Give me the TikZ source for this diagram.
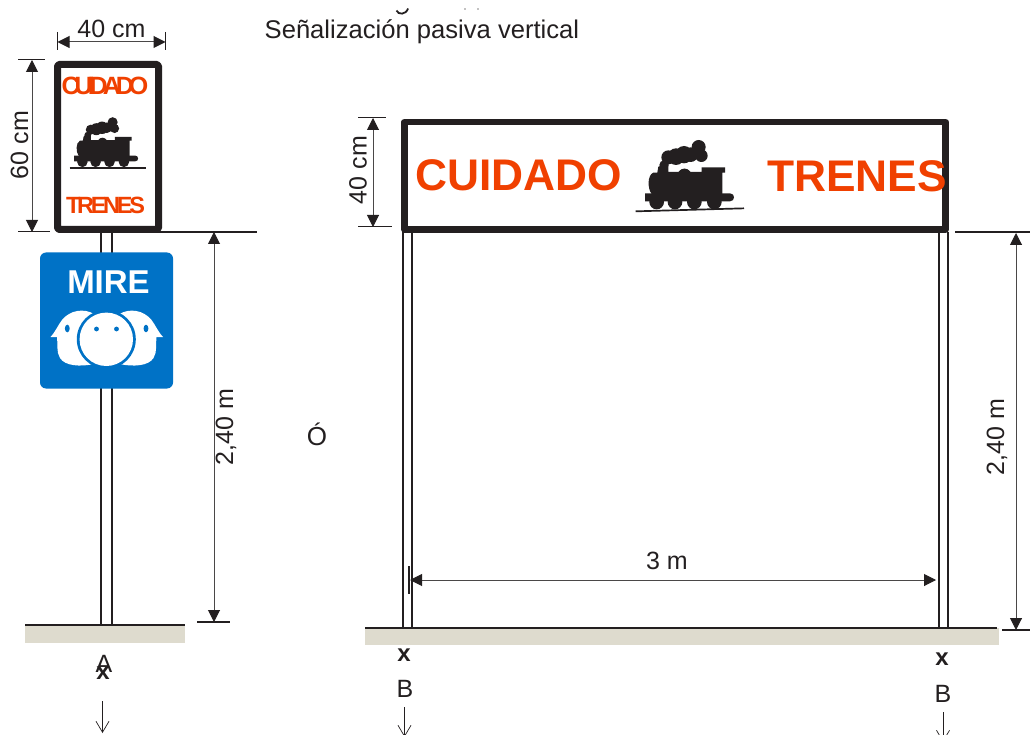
\documentclass[tikz,border=0pt]{standalone}
\usepackage{fontspec}
\setmainfont{Liberation Sans}
\usetikzlibrary{arrows.meta}
\definecolor{ink}{HTML}{231F20}
\definecolor{signred}{HTML}{F04000}
\definecolor{signblue}{HTML}{0072C6}
\definecolor{ground}{HTML}{DEDBCE}
\definecolor{dimgrey}{HTML}{4A4848}
\newcommand{\engine}{%
  \fill[ink] (135,220) -- (390,220) .. controls (406,220) and (406,244) .. (390,244) -- (135,244) -- cycle;
  \foreach \wx in {170,225,283,343} \fill[ink] (\wx,246) circle[radius=22];
  \fill[ink] (160,158) .. controls (142,165) and (142,205) .. (155,222) -- (367,222) -- (367,158) -- (375,158) -- (375,142) -- (305,142) -- (305,156) -- (272,156) .. controls (262,142) and (245,142) .. (235,156) -- (205,156) -- (205,130) -- (175,140) -- (172,158) -- cycle;
  \foreach \sx/\sy/\sr in {192/135/14,205/112/21,228/110/25,252/104/26,272/104/22,296/81/21,304/107/19}
    \fill[ink] (\sx,\sy) circle[radius=\sr];
}
\tikzset{
  x=1pt,y=-1pt,
  lbl/.style={font=\fontsize{25}{25}\selectfont,text=ink,inner sep=0pt},
  dimline/.style={draw=dimgrey,line width=1pt,{Triangle[length=12pt,width=12pt,color=ink]}-{Triangle[length=12pt,width=12pt,color=ink]}},
  tick/.style={draw=ink,line width=1pt},
  heavytick/.style={draw=ink,line width=2pt},
  post/.style={draw=ink,line width=2pt},
  frameline/.style={draw=ink,line width=7pt,line join=round},
  groundline/.style={draw=ink,line width=2pt},
  grnd/.style={fill=ground,draw=none},
  downarrow/.style={draw=ink,line width=.7pt,-{Straight Barb[length=11pt,width=13pt]}},
  mark x/.style={font=\fontsize{24}{24}\selectfont\bfseries,text=ink,inner sep=0pt},
  smallred/.style={font=\fontsize{25}{25}\selectfont\bfseries,text=signred,inner sep=0pt},
  bigred/.style={font=\fontsize{44.3}{44.3}\selectfont\bfseries,text=signred,inner sep=0pt},
}
\begin{document}
\begin{tikzpicture}
\useasboundingbox (0,0) rectangle (1030,735);

% ---- ground and posts, left
\fill[grnd] (25,625) rectangle (185,643);
\draw[post] (101,232) -- (101,625);
\draw[post] (112,232) -- (112,625);
\draw[groundline] (25,624.5) -- (185,624.5);

% ---- left sign
\draw[frameline,fill=white,rounded corners=1.5pt] (57.5,64.5) rectangle (158.5,229.5);
\node[smallred] (cuidadoS) at (105,86) {\addfontfeature{LetterSpace=-20}CUIDADO};
\node[smallred,font=\fontsize{23.5}{23.5}\selectfont\bfseries] (trenesS) at (105.5,205.5) {\addfontfeature{LetterSpace=-14}TRENES};
\begin{scope}[shift={(41.6,102.8)},scale=.24]
\engine
\end{scope}
\draw[draw=ink,line width=1.7pt] (69.5,168) -- (146,168);

% ---- blue sign
\fill[signblue,rounded corners=6pt] (40,252.5) rectangle (173,388.5);
\node[font=\fontsize{33}{33}\selectfont\bfseries,text=white,inner sep=0pt] (mire) at (108.5,282.5) {MIRE};
\fill[white] (50.5,337) .. controls (56,331) and (58,325) .. (62,320) .. controls (70,310) and (84,308) .. (94,314) -- (94,364) .. controls (80,367) and (65,366) .. (60,358) .. controls (56,352) and (58,343) .. (57,337) -- cycle;
\fill[white] (163,337) .. controls (157.5,331) and (155.5,325) .. (151.5,320) .. controls (143.5,310) and (129.5,308) .. (119.5,314) -- (119.5,364) .. controls (133.5,367) and (148.5,366) .. (153.5,358) .. controls (157.5,352) and (155.5,343) .. (156.5,337) -- cycle;
\fill[signblue] (106.3,339.3) circle[radius=29.5];
\fill[white] (106.3,339.3) circle[radius=26.7];
\fill[signblue] (96.5,329) circle[radius=2.4];
\fill[signblue] (116.5,329) circle[radius=2.4];
\fill[signblue] (67.3,328.5) ellipse[x radius=2.4,y radius=3.8];
\fill[signblue] (146,328.5) ellipse[x radius=2.4,y radius=3.8];

% ---- left dimensions
\coordinate (wA) at (57.5,42);
\coordinate (wB) at (165.5,42);
\draw[tick] (57.5,32) -- (57.5,50);
\draw[tick] (165.5,32) -- (165.5,50);
\draw[dimline] (wA) -- (wB);
\node[lbl] (w40) at (111.5,29) {40 cm};
\coordinate (hA) at (32,60);
\coordinate (hB) at (32,232);
\draw[tick] (18,60) -- (45,60);
\draw[tick] (18,232) -- (50,232);
\draw[dimline] (hA) -- (hB);
\node[lbl,rotate=90] (h60) at (19.5,145) {60 cm};
\draw[groundline] (150,232) -- (257,232);
\coordinate (vA) at (214,232);
\coordinate (vB) at (214,622);
\draw[dimline] (vA) -- (vB);
\draw[heavytick] (197,622) -- (230,622);
\node[lbl,rotate=90] (v240) at (226,427) {2,40 m};

% ---- left lower marks
\node[lbl] (labA) at (104,664) {A};
\node[mark x] (xA) at (103,673) {x};
\coordinate (arrA1) at (102.5,701);
\coordinate (arrA2) at (102.5,733);
\draw[downarrow] (arrA1) -- (arrA2);

% ---- heading
\node[lbl,anchor=west,font=\fontsize{25.6}{25.6}\selectfont] (title) at (264.5,31.5) {Señalización pasiva vertical};
\draw[ink,line width=1.8pt] (396.5,10.5) .. controls (398,15) and (406,15) .. (408,8.5);
\fill[ink!55] (465,9) circle[radius=.8];
\fill[ink!55] (478,9) circle[radius=.8];

\node[lbl,font=\fontsize{26}{26}\selectfont] (ortxt) at (317,434) {Ó};

% ---- right structure
\fill[grnd] (365,628) rectangle (999,645);
\draw[post] (403,232) -- (403,628);
\draw[post] (412,232) -- (412,628);
\draw[post] (939,232) -- (939,628);
\draw[post] (948,232) -- (948,628);
\draw[groundline] (365,628) -- (997,628);
\draw[frameline,line width=6.5pt,fill=white] (404.5,122) rectangle (945.5,229.5);
\node[bigred,anchor=west] (cuidadoB) at (415,175) {CUIDADO};
\node[bigred,anchor=east] (trenesB) at (947,176) {TRENES};
\begin{scope}[shift={(600,120)},scale=1/3]
\engine
\draw[draw=ink,line width=1.7pt] (107,274) -- (432,265);
\end{scope}

% ---- right dimensions
\coordinate (rA) at (373,118);
\coordinate (rB) at (373,227);
\draw[tick] (358,118) -- (386,118);
\draw[tick] (358,227) -- (392,227);
\draw[dimline] (rA) -- (rB);
\node[lbl,rotate=90] (r40) at (358,170) {40 cm};
\coordinate (sA) at (410,580);
\coordinate (sB) at (936,580);
\draw[dimline] (sA) -- (sB);
\draw[heavytick] (409,566) -- (409,594);
\node[lbl] (s3) at (667,560.5) {3 m};
\draw[groundline] (955,232) -- (1030,232);
\coordinate (tA) at (1016,233);
\coordinate (tB) at (1016,630);
\draw[dimline] (tA) -- (tB);
\draw[heavytick] (1002,630) -- (1030,630);
\node[lbl,rotate=90] (t240) at (997,437) {2,40 m};

% ---- right lower marks
\node[mark x] (xB1) at (404,655) {x};
\node[lbl] (labB1) at (405,689) {B};
\coordinate (arrB1a) at (404.5,707);
\coordinate (arrB1b) at (404.5,737);
\draw[downarrow] (arrB1a) -- (arrB1b);
\node[mark x] (xB2) at (942,659) {x};
\node[lbl] (labB2) at (943,694) {B};
\coordinate (arrB2a) at (943,712);
\coordinate (arrB2b) at (943,742);
\draw[downarrow] (arrB2a) -- (arrB2b);
\end{tikzpicture}
\end{document}
